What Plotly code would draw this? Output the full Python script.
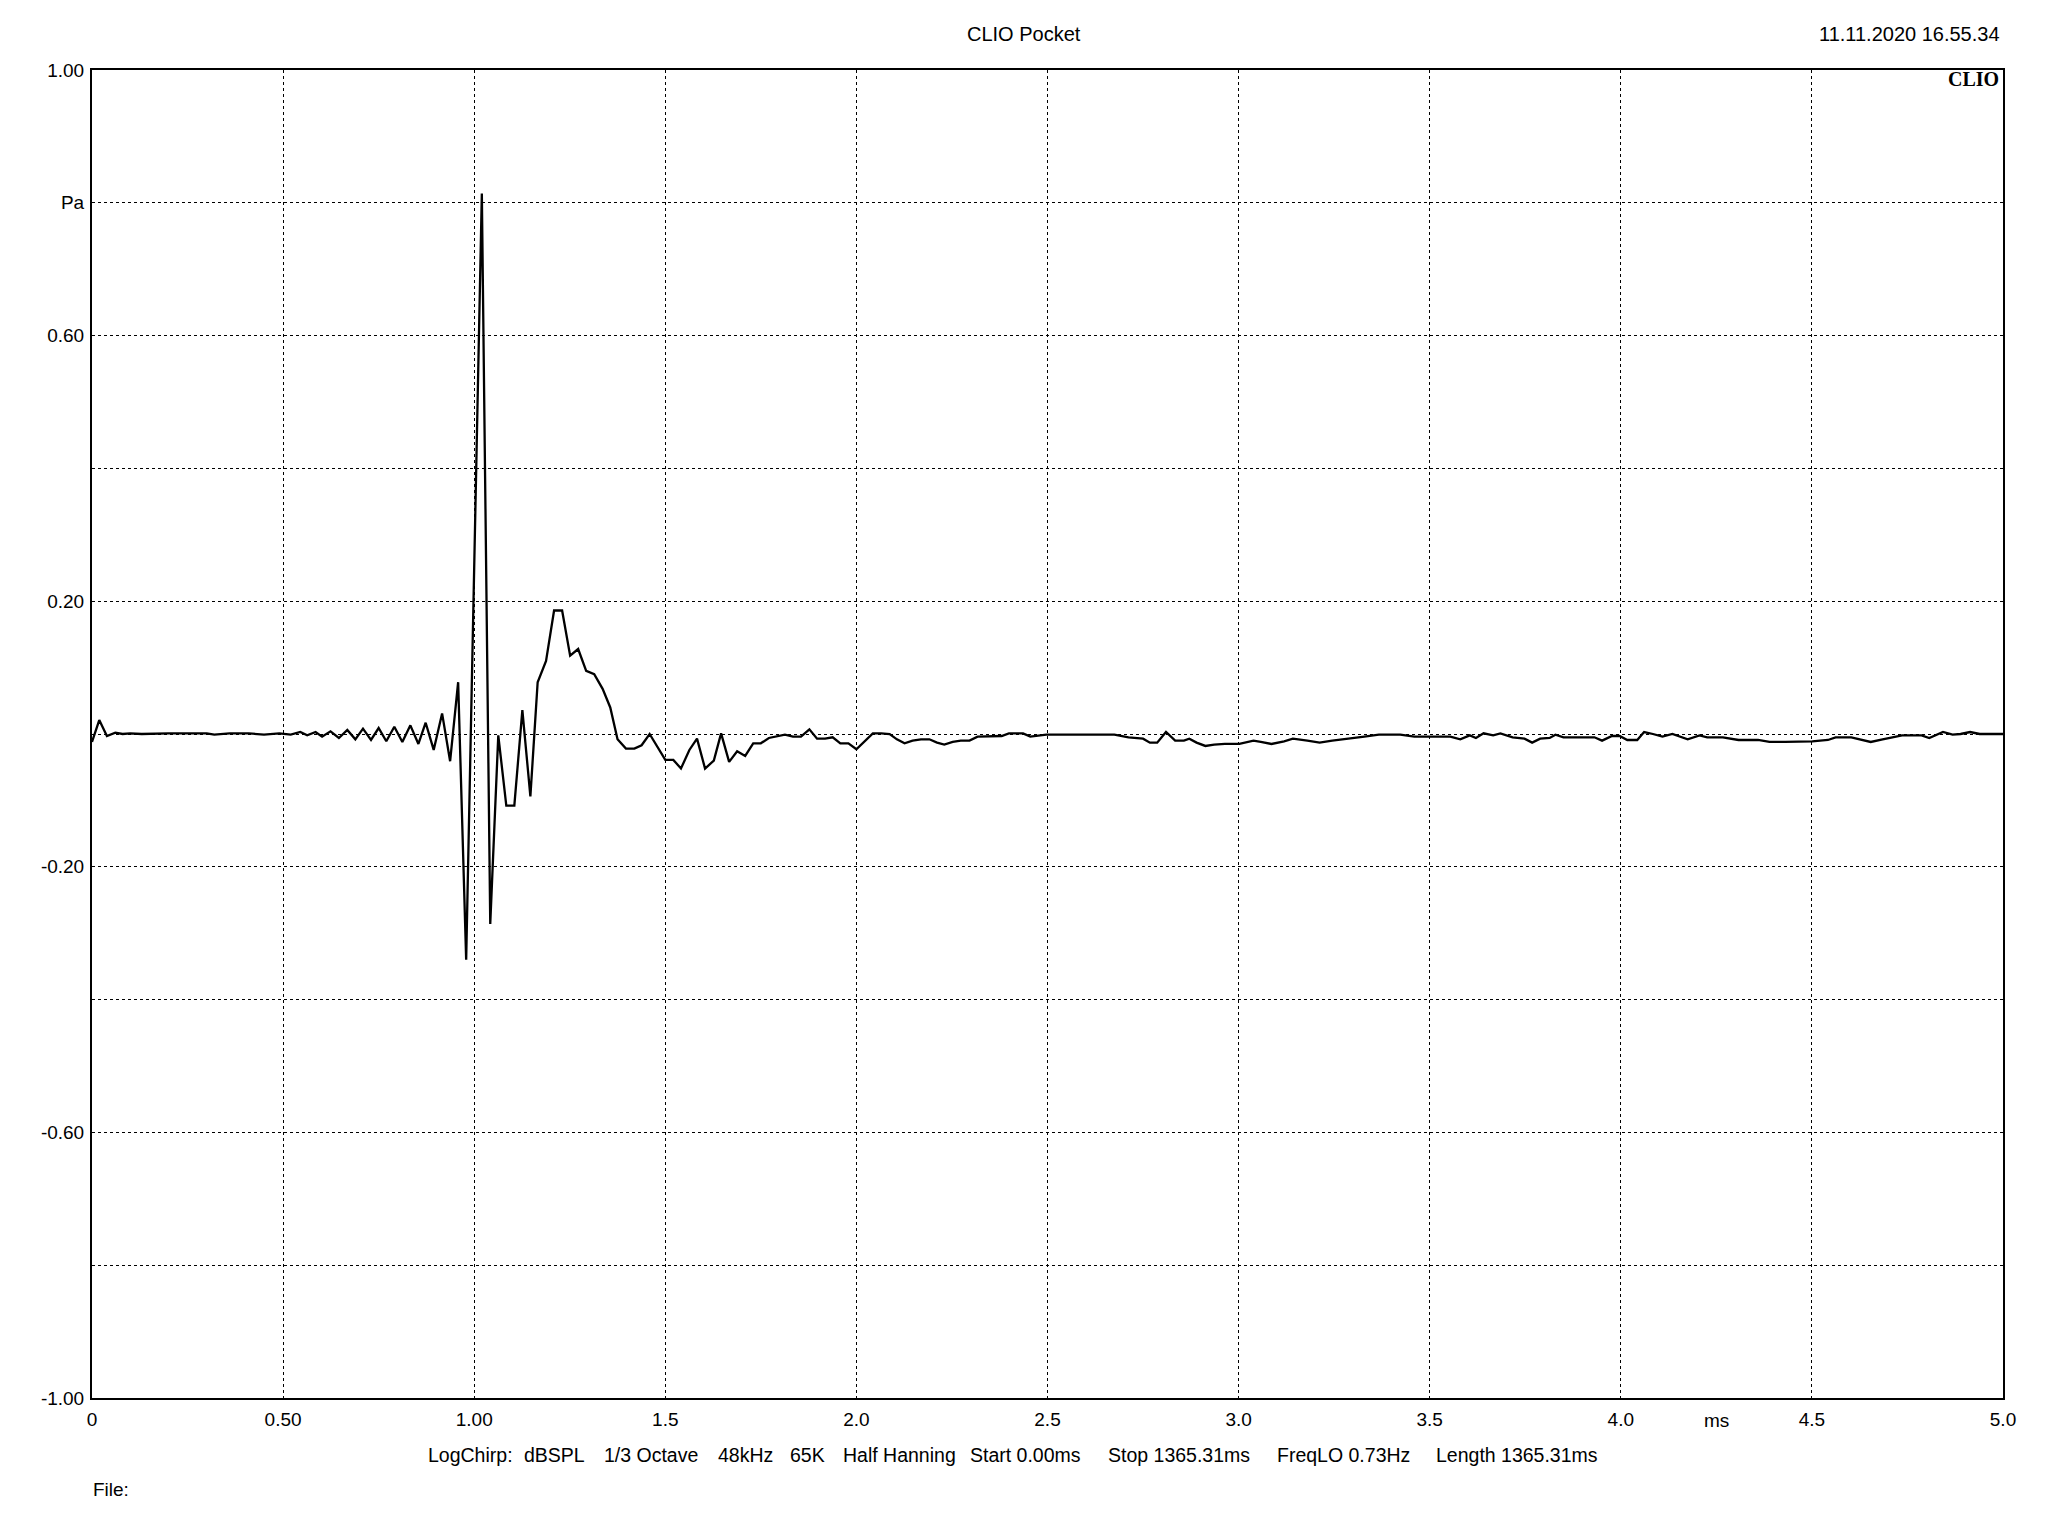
import plotly.graph_objects as go

# ---- data ----
time_ms = [
    0.000, 0.019, 0.039, 0.061, 0.080, 0.100, 0.130, 0.200, 0.300, 0.320, 0.360, 0.410, 0.450, 0.490,
    0.520, 0.545, 0.563, 0.585, 0.602, 0.624, 0.646, 0.668, 0.689, 0.709, 0.730, 0.750, 0.770, 0.791,
    0.812, 0.833, 0.854, 0.873, 0.894, 0.916, 0.937, 0.958, 0.979, 1.020, 1.042, 1.063, 1.084, 1.105,
    1.126, 1.147, 1.166, 1.188, 1.209, 1.230, 1.251, 1.272, 1.293, 1.314, 1.336, 1.356, 1.375, 1.397,
    1.419, 1.438, 1.459, 1.480, 1.500, 1.521, 1.541, 1.563, 1.583, 1.604, 1.627, 1.646, 1.667, 1.688,
    1.709, 1.730, 1.750, 1.771, 1.792, 1.813, 1.834, 1.855, 1.877, 1.897, 1.918, 1.938, 1.958, 1.979,
    2.000, 2.021, 2.043, 2.065, 2.087, 2.106, 2.126, 2.147, 2.169, 2.191, 2.211, 2.230, 2.252, 2.273,
    2.296, 2.317, 2.339, 2.380, 2.399, 2.436, 2.455, 2.497, 2.544, 2.675, 2.712, 2.750, 2.768, 2.787,
    2.810, 2.834, 2.857, 2.871, 2.890, 2.913, 2.936, 2.964, 3.002, 3.039, 3.058, 3.086, 3.119, 3.142,
    3.180, 3.212, 3.245, 3.292, 3.329, 3.367, 3.423, 3.460, 3.516, 3.554, 3.580, 3.605, 3.621, 3.641,
    3.666, 3.685, 3.717, 3.748, 3.768, 3.789, 3.814, 3.829, 3.850, 3.931, 3.951, 3.977, 3.997, 4.017,
    4.043, 4.061, 4.084, 4.109, 4.135, 4.175, 4.206, 4.226, 4.267, 4.308, 4.359, 4.389, 4.430, 4.501,
    4.542, 4.562, 4.603, 4.654, 4.685, 4.736, 4.787, 4.807, 4.843, 4.868, 4.889, 4.914, 4.939, 5.000,
]
pressure_pa = [
    -0.012, 0.021, -0.003, 0.002, 0.000, 0.001, 0.000, 0.001, 0.001, -0.001, 0.001, 0.001, -0.001, 0.001,
    -0.001, 0.003, -0.002, 0.003, -0.004, 0.004, -0.006, 0.006, -0.008, 0.008, -0.009, 0.009, -0.011, 0.011,
    -0.012, 0.013, -0.015, 0.017, -0.024, 0.031, -0.041, 0.078, -0.340, 0.814, -0.286, -0.002, -0.108, -0.108,
    0.036, -0.094, 0.078, 0.110, 0.186, 0.186, 0.118, 0.128, 0.095, 0.090, 0.068, 0.040, -0.008, -0.022,
    -0.022, -0.017, 0.000, -0.020, -0.039, -0.039, -0.052, -0.024, -0.007, -0.052, -0.040, 0.001, -0.042, -0.026,
    -0.033, -0.014, -0.014, -0.006, -0.004, -0.001, -0.004, -0.004, 0.007, -0.007, -0.007, -0.005, -0.014, -0.014,
    -0.023, -0.011, 0.001, 0.001, 0.000, -0.008, -0.014, -0.010, -0.008, -0.008, -0.013, -0.016, -0.012, -0.010,
    -0.010, -0.004, -0.004, -0.003, 0.001, 0.001, -0.004, -0.001, -0.001, -0.001, -0.005, -0.007, -0.013, -0.013,
    0.003, -0.010, -0.010, -0.007, -0.013, -0.018, -0.016, -0.015, -0.015, -0.010, -0.012, -0.015, -0.011, -0.007,
    -0.010, -0.013, -0.010, -0.007, -0.004, -0.001, -0.001, -0.004, -0.004, -0.004, -0.008, -0.002, -0.006, 0.001,
    -0.002, 0.001, -0.005, -0.007, -0.013, -0.007, -0.006, -0.001, -0.005, -0.005, -0.010, -0.003, -0.003, -0.009,
    -0.009, 0.003, 0.000, -0.004, 0.000, -0.008, -0.002, -0.005, -0.005, -0.009, -0.009, -0.012, -0.012, -0.011,
    -0.009, -0.005, -0.005, -0.012, -0.008, -0.002, -0.002, -0.006, 0.003, -0.001, 0.000, 0.003, 0.000, 0.000,
]

x_tickvals = [0, 0.5, 1.0, 1.5, 2.0, 2.5, 3.0, 3.5, 4.0, 4.5, 5.0]
x_ticktext = ["0", "0.50", "1.00", "1.5", "2.0", "2.5", "3.0", "3.5", "4.0", "4.5", "5.0"]
y_tickvals = [-1.0, -0.8, -0.6, -0.4, -0.2, 0.0, 0.2, 0.4, 0.6, 0.8, 1.0]
y_ticktext = ["-1.00", "", "-0.60", "", "-0.20", "", "0.20", "", "0.60", "Pa", "1.00"]

title_text = "CLIO Pocket"
date_text = "11.11.2020 16.55.34"
logo_text = "CLIO"
x_unit = "ms"
info_chunks = ["LogChirp:", "dBSPL", "1/3 Octave", "48kHz", "65K", "Half Hanning",
               "Start 0.00ms", "Stop 1365.31ms", "FreqLO 0.73Hz", "Length 1365.31ms"]
info_px = [426, 522, 602, 716, 788, 841, 968, 1106, 1275, 1434]
file_text = "File:"

# ---- layout geometry (page pixels; page body adds an 8px offset) ----
W, H = 2048, 1536
OFF = 8
PLOT_L, PLOT_R, PLOT_T, PLOT_B = 92, 2003, 70, 1398   # plot area in page px
L = PLOT_L - OFF
T = PLOT_T - OFF
PW = PLOT_R - PLOT_L
PH = PLOT_B - PLOT_T
R = W - L - PW
B = H - T - PH

def px_to_paper_x(px):
    return (px - PLOT_L) / PW

def px_to_paper_y(py):
    return (PLOT_B - py) / PH

FONT = "Liberation Sans, Arial, sans-serif"

fig = go.Figure()
fig.add_trace(go.Scatter(
    x=time_ms, y=pressure_pa, mode="lines",
    line=dict(color="black", width=2.3),
    showlegend=False, hoverinfo="skip",
))

axis_common = dict(
    showline=True, mirror=True, linecolor="black", linewidth=2,
    showgrid=True, gridcolor="black", gridwidth=1, griddash="dot",
    zeroline=False, ticks="", tickfont=dict(family=FONT, size=19, color="black"),
)

fig.update_xaxes(range=[0, 5], tickmode="array", tickvals=x_tickvals, ticktext=x_ticktext,
                 ticklabelstandoff=3, **axis_common)
fig.update_yaxes(range=[-1, 1], tickmode="array", tickvals=y_tickvals, ticktext=y_ticktext,
                 ticklabelstandoff=2, **axis_common)

annotations = [
    dict(text=title_text, xref="paper", yref="paper", x=px_to_paper_x(1024), y=px_to_paper_y(34),
         xanchor="center", yanchor="middle", showarrow=False, font=dict(family=FONT, size=20, color="black")),
    dict(text=date_text, xref="paper", yref="paper", x=px_to_paper_x(2002), y=px_to_paper_y(34),
         xanchor="right", yanchor="middle", showarrow=False, font=dict(family=FONT, size=20, color="black")),
    dict(text="<b>" + logo_text + "</b>", xref="paper", yref="paper", x=px_to_paper_x(2001), y=px_to_paper_y(79),
         xanchor="right", yanchor="middle", showarrow=False,
         font=dict(family="Liberation Serif, Times New Roman, serif", size=20, color="black")),
    dict(text=x_unit, xref="x", yref="paper", x=4.25, y=px_to_paper_y(1420),
         xanchor="center", yanchor="middle", showarrow=False, font=dict(family=FONT, size=19, color="black")),
    dict(text=file_text, xref="paper", yref="paper", x=px_to_paper_x(91), y=px_to_paper_y(1489),
         xanchor="left", yanchor="middle", showarrow=False, font=dict(family=FONT, size=19, color="black")),
]
for chunk, px in zip(info_chunks, info_px):
    annotations.append(dict(text=chunk, xref="paper", yref="paper", x=px_to_paper_x(px), y=px_to_paper_y(1455),
                            xanchor="left", yanchor="middle", showarrow=False,
                            font=dict(family=FONT, size=19.5, color="black")))

fig.update_layout(
    width=W, height=H,
    margin=dict(l=L, r=R, t=T, b=B, pad=0),
    paper_bgcolor="white", plot_bgcolor="white",
    annotations=annotations,
    showlegend=False,
)

fig.write_html("out.html")
